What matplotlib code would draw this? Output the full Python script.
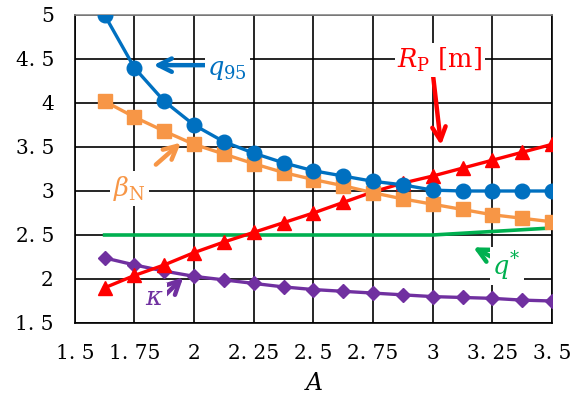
import numpy as np
import matplotlib
matplotlib.use("Agg")
import matplotlib.pyplot as plt

# Aspect ratio A (x axis)
aspect_ratio = [1.625, 1.75, 1.875, 2.0, 2.125, 2.25, 2.375, 2.5,
                2.625, 2.75, 2.875, 3.0, 3.125, 3.25, 3.375, 3.5]

# Plasma parameters vs aspect ratio
q95 = [5.00, 4.40, 4.02, 3.75, 3.56, 3.43, 3.32, 3.23,
       3.17, 3.11, 3.07, 3.01, 3.00, 3.00, 3.00, 3.00]
beta_n = [4.02, 3.84, 3.68, 3.53, 3.42, 3.31, 3.21, 3.13,
          3.06, 2.98, 2.91, 2.85, 2.79, 2.73, 2.69, 2.65]
major_radius = [1.90, 2.04, 2.16, 2.30, 2.42, 2.53, 2.64, 2.75,
                2.87, 2.99, 3.09, 3.17, 3.26, 3.35, 3.44, 3.53]
kappa = [2.24, 2.16, 2.09, 2.03, 1.99, 1.95, 1.91, 1.88,
         1.86, 1.84, 1.82, 1.80, 1.79, 1.78, 1.76, 1.75]
q_star = [2.50, 2.50, 2.50, 2.50, 2.50, 2.50, 2.50, 2.50,
          2.50, 2.50, 2.50, 2.50, 2.52, 2.54, 2.56, 2.58]

x_ticks = [1.5, 1.75, 2.0, 2.25, 2.5, 2.75, 3.0, 3.25, 3.5]
x_tick_labels = ["1. 5", "1. 75", "2", "2. 25", "2. 5", "2. 75", "3", "3. 25", "3. 5"]
y_ticks = [1.5, 2.0, 2.5, 3.0, 3.5, 4.0, 4.5, 5.0]
y_tick_labels = ["1. 5", "2", "2. 5", "3", "3. 5", "4", "4. 5", "5"]

BLUE = "#0070C0"
ORANGE = "#F79646"
RED = "#FF0000"
GREEN = "#00B050"
PURPLE = "#7030A0"

plt.rcParams["mathtext.fontset"] = "dejavuserif"

fig = plt.figure(figsize=(5.75, 4.0), dpi=100)
ax = fig.add_axes([0.130, 0.1925, 0.830, 0.770])

ax.set_xlim(1.5, 3.5)
ax.set_ylim(1.5, 5.0)
ax.set_xticks(x_ticks)
ax.set_xticklabels(x_tick_labels)
ax.set_yticks(y_ticks)
ax.set_yticklabels(y_tick_labels)
ax.tick_params(length=0, pad=15, labelsize=14.5)
for lab in ax.get_xticklabels() + ax.get_yticklabels():
    lab.set_family("DejaVu Serif")

ax.grid(True, color="black", linewidth=1.2, zorder=0)
ax.set_axisbelow(True)
for side in ["left", "right", "bottom"]:
    ax.spines[side].set_color("black")
    ax.spines[side].set_linewidth(1.2)
ax.spines["top"].set_color("#888888")
ax.spines["top"].set_linewidth(1.2)

ax.set_xlabel("$A$", fontsize=17, labelpad=6)

lw = 2.4
ax.plot(aspect_ratio, q_star, color=GREEN, lw=2.6, zorder=3)
ax.plot(aspect_ratio, kappa, color=PURPLE, lw=lw, marker="D", ms=7.5, zorder=4)
ax.plot(aspect_ratio, major_radius, color=RED, lw=lw, marker="^", ms=10, zorder=5)
ax.plot(aspect_ratio, beta_n, color=ORANGE, lw=lw, marker="s", ms=9.5, zorder=6)
ax.plot(aspect_ratio, q95, color=BLUE, lw=lw, marker="o", ms=10.5, zorder=7)

box = dict(facecolor="white", edgecolor="none", pad=2)
arrow_kw = dict(arrowstyle="->", lw=3.2, mutation_scale=24, shrinkA=0, shrinkB=0)


def label(text, pos, color):
    ax.text(pos[0], pos[1], text, color=color, fontsize=18.5, ha="center",
            va="center", bbox=box, zorder=9)


def arrow(tail, head, color):
    ax.annotate("", xy=head, xytext=tail,
                arrowprops=dict(color=color, **arrow_kw), zorder=8)


label(r"$q_{\mathrm{95}}$", (2.14, 4.39), BLUE)
arrow((2.05, 4.43), (1.83, 4.43), BLUE)

label(r"$\beta_{\mathrm{N}}$", (1.73, 3.03), ORANGE)
arrow((1.84, 3.30), (1.945, 3.55), ORANGE)

label(r"$R_{\mathrm{P}}\ \mathrm{[m]}$", (3.03, 4.49), RED)
arrow((3.00, 4.35), (3.035, 3.52), RED)

label(r"$\kappa$", (1.835, 1.78), PURPLE)
arrow((1.88, 1.82), (1.955, 2.02), PURPLE)

label(r"$q^{*}$", (3.31, 2.15), GREEN)
arrow((3.255, 2.24), (3.17, 2.36), GREEN)

fig.savefig("out.png", dpi=100)
